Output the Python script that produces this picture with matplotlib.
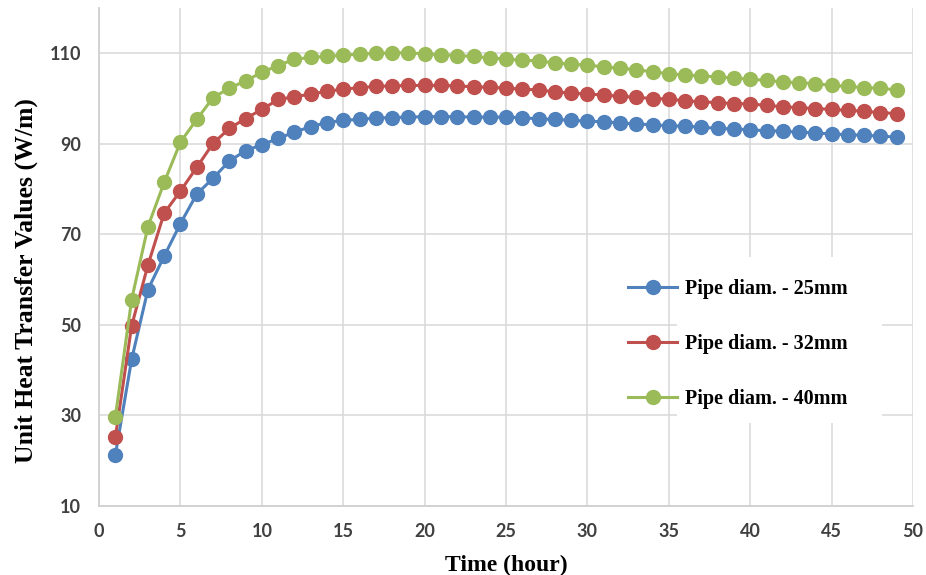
import matplotlib
matplotlib.use("Agg")
import matplotlib.pyplot as plt
from matplotlib.patches import Rectangle

hours = list(range(1, 50))

pipe_25 = [21.3, 42.4, 57.8, 65.2, 72.4, 78.9, 82.4, 86.2, 88.5, 89.8,
           91.2, 92.6, 93.8, 94.7, 95.2, 95.4, 95.7, 95.8, 95.9, 96.0,
           96.0, 96.0, 95.9, 95.9, 95.9, 95.8, 95.5, 95.4, 95.2, 95.0,
           94.9, 94.6, 94.4, 94.2, 94.0, 93.9, 93.7, 93.4, 93.3, 93.1,
           92.9, 92.8, 92.6, 92.4, 92.2, 92.0, 91.9, 91.7, 91.5]
pipe_32 = [25.2, 49.8, 63.2, 74.7, 79.6, 84.8, 90.1, 93.4, 95.6, 97.6,
           99.8, 100.4, 101.0, 101.6, 102.1, 102.4, 102.7, 102.8, 102.9, 102.9,
           102.9, 102.8, 102.6, 102.5, 102.3, 102.1, 101.9, 101.5, 101.2, 101.0,
           100.8, 100.5, 100.3, 100.0, 99.9, 99.5, 99.3, 99.1, 98.9, 98.8,
           98.5, 98.2, 98.0, 97.8, 97.6, 97.4, 97.2, 96.9, 96.7]
pipe_40 = [29.7, 55.6, 71.7, 81.5, 90.4, 95.4, 100.2, 102.3, 103.9, 105.8,
           107.3, 108.7, 109.1, 109.3, 109.6, 109.8, 110.0, 110.1, 110.1, 109.9,
           109.7, 109.5, 109.3, 109.0, 108.7, 108.5, 108.3, 107.9, 107.6, 107.4,
           107.0, 106.7, 106.4, 105.9, 105.5, 105.2, 105.0, 104.8, 104.5, 104.3,
           104.0, 103.7, 103.5, 103.3, 102.9, 102.7, 102.4, 102.3, 101.9]

series = [("Pipe diam. - 25mm", pipe_25, "#4F81BD"),
          ("Pipe diam. - 32mm", pipe_32, "#C0504D"),
          ("Pipe diam. - 40mm", pipe_40, "#9BBB59")]

fig = plt.figure(figsize=(9.26, 5.75), dpi=100)
ax = fig.add_axes([0.107, 0.12, 0.879, 0.866])

for label, vals, col in series:
    ax.plot(hours, vals, color=col, lw=2.2, marker="o", ms=10, label=label, zorder=3)

ax.set_xlim(0, 50)
ax.set_ylim(10, 120)
ax.set_xticks(range(0, 51, 5))
ax.set_yticks(range(10, 111, 20))
ax.grid(True, color="#d9d9d9", lw=1.1, zorder=0)
ax.set_axisbelow(True)
for s in ["top", "right"]:
    ax.spines[s].set_visible(False)
for s in ["left", "bottom"]:
    ax.spines[s].set_color("#d0d0d0")
    ax.spines[s].set_linewidth(1.3)

ax.tick_params(length=0, labelsize=13, labelcolor="#404040")
ax.tick_params(axis="y", pad=13)
ax.tick_params(axis="x", pad=12)
for t in ax.get_xticklabels() + ax.get_yticklabels():
    t.set_fontfamily("Lato")
    t.set_fontweight("bold")

ax.set_xlabel("Time (hour)", family="Liberation Serif", weight="bold",
              size=17, labelpad=11)
ax.set_ylabel("Unit Heat Transfer Values (W/m)", family="Liberation Serif",
              weight="bold", size=18.5)
ax.yaxis.set_label_coords(-0.075, 0.452)

# white box behind the legend text
ax.add_patch(Rectangle((0.71, 0.167), 0.252, 0.333, transform=ax.transAxes,
                       facecolor="white", edgecolor="none", zorder=2))

ax.legend(loc="center left", bbox_to_anchor=(0.638, 0.325), frameon=False,
          prop={"family": "Liberation Serif", "weight": "bold", "size": 14.5},
          handlelength=2.4, handletextpad=0.4, labelspacing=1.75, borderpad=0)

fig.savefig("out.png", dpi=100)
